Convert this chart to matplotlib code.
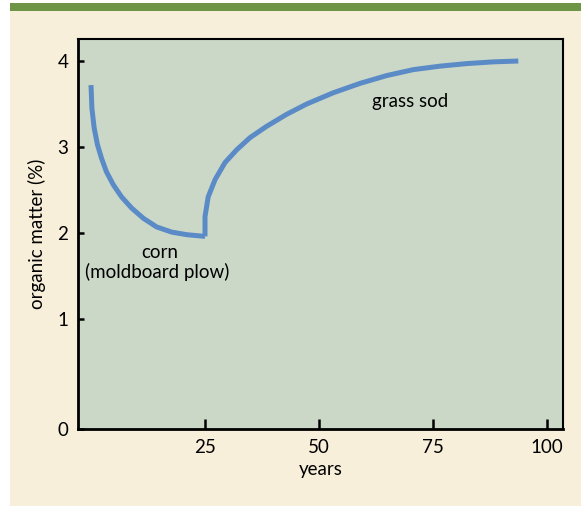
import matplotlib
matplotlib.use("Agg")
import matplotlib.pyplot as plt

plt.rcParams["font.family"] = ["Lato", "DejaVu Sans"]

# Lata i zawartość materii organicznej (%)
corn_years = [0.0, 0.2, 0.7, 1.4, 2.3, 3.4, 4.9, 6.7, 8.9, 11.5, 14.4, 17.7, 21.0, 25.0]
corn_om = [3.72, 3.45, 3.22, 3.03, 2.87, 2.71, 2.56, 2.42, 2.29, 2.17, 2.07, 2.01, 1.98, 1.96]

sod_years = [25.0, 25.0, 25.7, 27.2, 29.4, 32.0, 34.9, 38.5, 42.9, 47.3, 53.1,
             59.0, 64.8, 70.7, 76.5, 82.4, 88.2, 93.7]
sod_om = [1.96, 2.19, 2.42, 2.62, 2.82, 2.97, 3.11, 3.24, 3.38, 3.50, 3.63,
          3.74, 3.83, 3.90, 3.94, 3.97, 3.99, 4.0]

x_ticks = [25, 50, 75, 100]
y_ticks = [1, 2, 3, 4]

BLUE = "#5b8bc6"
CREAM = "#f7efd9"
PLOT_BG = "#cbd8c8"
GREEN = "#6e9445"

fig = plt.figure(figsize=(5.81, 5.07), dpi=100)
W, H = 581, 507

# tło: kremowy panel i zielony pasek u góry (pod osiami)
fig.patches.append(plt.Rectangle((10 / W, 1 / H), 1, 495 / H, transform=fig.transFigure,
                                 facecolor=CREAM, edgecolor="none", zorder=-2))
fig.patches.append(plt.Rectangle((10 / W, 496 / H), 1, 8 / H, transform=fig.transFigure,
                                 facecolor=GREEN, edgecolor="none", zorder=-2))

ax = fig.add_axes([78 / W, (H - 429) / H, (563 - 78) / W, (429 - 39) / H])
ax.set_facecolor(PLOT_BG)

ax.plot(corn_years, corn_om, color=BLUE, linewidth=3.6, solid_capstyle="butt",
        solid_joinstyle="round")
ax.plot(sod_years, sod_om, color=BLUE, linewidth=3.6, solid_capstyle="butt",
        solid_joinstyle="round")

# oś y: 0 siedzi na dolnej krawędzi (przerwa w skali)
y_bottom = -0.28
ax.set_xlim(-2.85, 103.5)
ax.set_ylim(y_bottom, 4.256)

ax.set_xticks(x_ticks)
ax.set_xticklabels([str(t) for t in x_ticks])
ax.set_yticks([y_bottom] + y_ticks)
ax.set_yticklabels(["0"] + [str(t) for t in y_ticks])
ax.tick_params(axis="x", direction="in", length=7, width=1.8, labelsize=13.5, pad=7)
ax.tick_params(axis="y", direction="in", length=4, width=1.8, labelsize=13.5, pad=7)

for side, sp in ax.spines.items():
    sp.set_color("black")
    sp.set_linewidth(2.0 if side in ("left", "bottom") else 1.5)

ax.set_xlabel("years", fontsize=13.5, labelpad=4)
ax.set_ylabel("organic matter (%)", fontsize=13.5, labelpad=8)

ax.text(15.1, 1.77, "corn", ha="center", va="center", fontsize=13.5)
ax.text(14.5, 1.55, "(moldboard plow)", ha="center", va="center", fontsize=13.5)
ax.text(70, 3.53, "grass sod", ha="center", va="center", fontsize=13.5)

fig.savefig("out.png", dpi=100, facecolor="white")
